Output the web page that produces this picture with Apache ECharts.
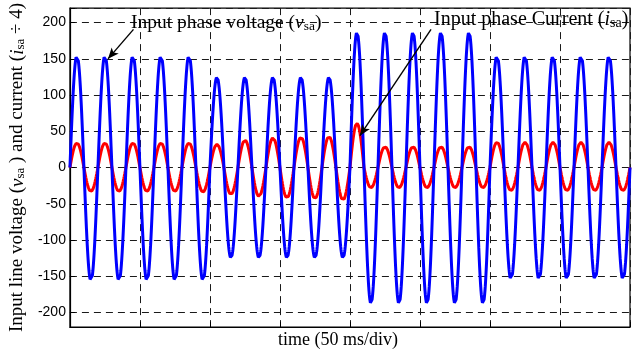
<!DOCTYPE html>
<html><head><meta charset="utf-8">
<script src="https://cdn.jsdelivr.net/npm/echarts@6/dist/echarts.min.js"></script>
<style>html,body{margin:0;padding:0;background:#fff}#c{width:638px;height:357px}</style>
</head><body><div id="c"></div>
<script>
// ---- data ----
const timeRangeMs = [0, 400];          // 50 ms/div, 8 divisions
const xTickStepMs = 50;
const yTickLabels = [-200, -150, -100, -50, 0, 50, 100, 150, 200];
const lineFrequencyHz = 50;            // 20 ms per cycle, 20 cycles shown
// positive peak / negative trough of each cycle (20 cycles)
const voltagePeaks   = [155,155,155,155,155, 125,125,125,125,125, 187,187,187,187,187, 155,155,155,155,155];
const voltageTroughs = [-157,-157,-157,-157,-157, -125,-125,-125,-125,-125, -188,-188,-188,-188,-188, -155,-155,-155,-155,-155];
const currentPeaks   = [34,34,34,34,34, 32,38,41,42,43, 61,29,29,29,29, 35,35,35,35,35];
const currentTroughs = [-33,-33,-33,-33,-34, -37,-40,-42,-43,-45, -28,-28,-28,-28,-28, -32,-32,-32,-32,-32];

// ---- build sampled waveforms from the per-half-cycle amplitudes ----
function waveform(peaks, troughs) {
  const period = 1000 / lineFrequencyHz;
  const pts = [];
  const step = 0.2;
  for (let t = timeRangeMs[0]; t <= timeRangeMs[1] + 1e-9; t += step) {
    const tt = Math.round(t * 1000) / 1000;
    let cyc = Math.floor(tt / period);
    if (cyc >= peaks.length) cyc = peaks.length - 1;
    const s = Math.sin(2 * Math.PI * tt / period);
    const a = s >= 0 ? peaks[cyc] : -troughs[cyc];
    pts.push([tt, a * s]);
  }
  return pts;
}
const voltageData = waveform(voltagePeaks, voltageTroughs);
const currentData = waveform(currentPeaks, currentTroughs);

const serif = '"Liberation Serif", "Times New Roman", serif';
const chart = echarts.init(document.getElementById('c'), null, {renderer: 'canvas'});
chart.setOption({
  animation: false,
  backgroundColor: '#fff',
  grid: {left: 66, right: 8, top: 7, bottom: 30, show: true, borderColor: '#000', borderWidth: 1.2, containLabel: false},
  xAxis: {
    type: 'value', min: timeRangeMs[0], max: timeRangeMs[1], interval: xTickStepMs,
    axisLine: {show: true, onZero: false, lineStyle: {color: '#000', width: 1.2}},
    axisTick: {show: true, inside: true, length: 5, lineStyle: {color: '#000'}},
    axisLabel: {show: false},
    splitLine: {show: true, lineStyle: {color: '#1a1a1a', type: [7, 5], width: 1}},
    name: 'time (50 ms/div)', nameLocation: 'middle', nameGap: 4,
    nameTextStyle: {fontFamily: serif, fontSize: 18, color: '#000', padding: [0, 24, 0, 0]}
  },
  yAxis: {
    type: 'value', min: -220, max: 220, splitNumber: 9,
    axisLine: {show: true, onZero: false, lineStyle: {color: '#000', width: 1.2}},
    axisTick: {show: true, inside: true, length: 5, lineStyle: {color: '#000'}},
    axisLabel: {
      color: '#000', fontFamily: '"Liberation Sans", Arial, sans-serif', fontSize: 14, margin: 4,
      formatter: v => yTickLabels.includes(v) ? String(v) : ''
    },
    splitLine: {show: true, lineStyle: {color: '#1a1a1a', type: [7, 5], width: 1}},
    name: 'Input line voltage ({it|v}{sub|sa} ) and current ({it|i}{sub|sa} ÷ 4)',
    nameLocation: 'middle', nameGap: 35,
    nameTextStyle: {
      fontFamily: serif, fontSize: 19, color: '#000',
      rich: {
        it: {fontFamily: serif, fontSize: 19, fontStyle: 'italic', color: '#000'},
        sub: {fontFamily: serif, fontSize: 13, color: '#000', verticalAlign: 'bottom', padding: [6, 0, 0, 0]}
      }
    }
  },
  series: [
    {
      name: 'Input phase current', type: 'line', data: currentData, showSymbol: false,
      lineStyle: {color: '#ff0000', width: 3}, z: 2
    },
    {
      name: 'Input phase voltage', type: 'line', data: voltageData, showSymbol: false,
      lineStyle: {color: '#0000ff', width: 3}, z: 3,
      markLine: {
        silent: true, symbol: ['none', 'arrow'], symbolSize: [7, 11],
        lineStyle: {color: '#000', width: 1.4, type: 'solid'},
        label: {show: false},
        data: [
          [{coord: [45.4, 190.7]}, {coord: [27.2, 150]}],
          [{coord: [257.9, 190.7]}, {coord: [207.1, 44]}]
        ]
      }
    }
  ],
  graphic: [
    {
      type: 'text', left: 131, top: 13, z: 10,
      style: {
        text: 'Input phase voltage ({it|v}{sub|sa})',
        font: '19.5px ' + serif, fill: '#000',
        rich: {
          it: {fontFamily: serif, fontSize: 19.5, fontStyle: 'italic', fill: '#000'},
          sub: {fontFamily: serif, fontSize: 13.5, fill: '#000', verticalAlign: 'bottom', padding: [6, 0, 0, 0]}
        }
      }
    },
    {
      type: 'text', left: 434, top: 10, z: 10,
      style: {
        text: 'Input phase Current ({it|i}{sub|sa})',
        font: '20px ' + serif, fill: '#000',
        rich: {
          it: {fontFamily: serif, fontSize: 20, fontStyle: 'italic', fill: '#000'},
          sub: {fontFamily: serif, fontSize: 14, fill: '#000', verticalAlign: 'bottom', padding: [6, 0, 0, 0]}
        }
      }
    }
  ]
});
</script>
</body></html>
